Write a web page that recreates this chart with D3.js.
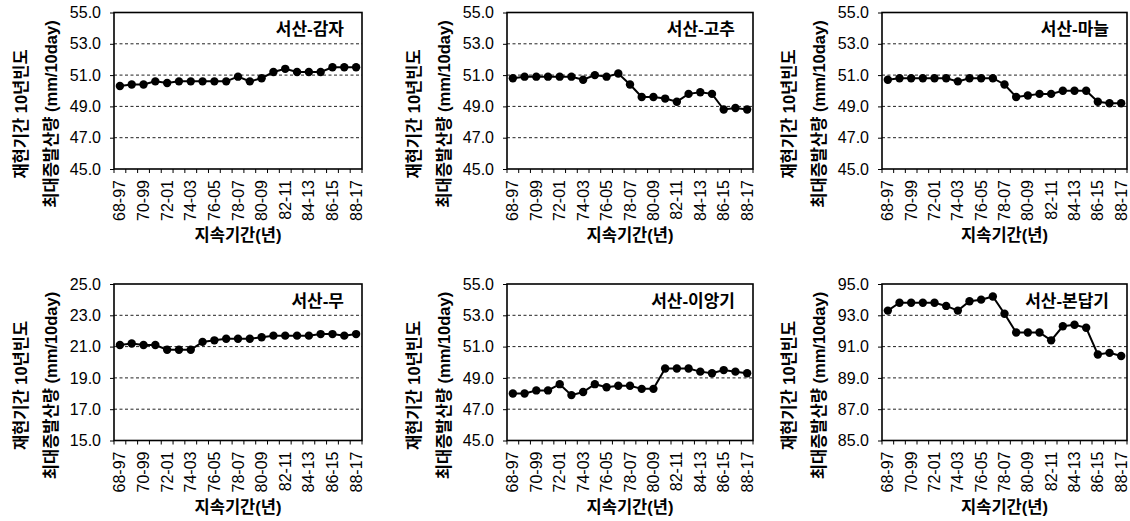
<!DOCTYPE html>
<html>
<head>
<meta charset="utf-8">
<script src="https://cdn.jsdelivr.net/npm/d3@7"></script>
<style>
  html, body { margin: 0; padding: 0; background: #fff; }
  svg { display: block; }
  text { font-family: "Liberation Sans", Arial, "Noto Sans CJK KR", sans-serif; fill: #000; }
</style>
</head>
<body>
<svg id="chart" width="1130" height="521"></svg>
<script>
// Rolling 30-year periods (start-end)
const periods = ["68-97","69-98","70-99","71-00","72-01","73-02","74-03","75-04","76-05","77-06",
                 "78-07","79-08","80-09","81-10","82-11","83-12","84-13","85-14","86-15","87-16","88-17"];

// 10-year return-period maximum evapotranspiration (mm/10day), Seosan
const potato = [50.3,50.4,50.4,50.6,50.5,50.6,50.6,50.6,50.6,50.6,50.9,50.6,50.8,51.2,51.4,51.2,51.2,51.2,51.5,51.5,51.5];
const pepper = [50.8,50.9,50.9,50.9,50.9,50.9,50.7,51.0,50.9,51.1,50.4,49.6,49.6,49.5,49.3,49.8,49.9,49.8,48.8,48.9,48.8];
const garlic = [50.7,50.8,50.8,50.8,50.8,50.8,50.6,50.8,50.8,50.8,50.4,49.6,49.7,49.8,49.8,50.0,50.0,50.0,49.3,49.2,49.2];
const radish = [21.1,21.2,21.1,21.1,20.8,20.8,20.8,21.3,21.4,21.5,21.5,21.5,21.6,21.7,21.7,21.7,21.7,21.8,21.8,21.7,21.8];
const transplant = [48.0,48.0,48.2,48.2,48.6,47.9,48.1,48.6,48.4,48.5,48.5,48.3,48.3,49.6,49.6,49.6,49.4,49.3,49.5,49.4,49.3];
const paddy = [93.3,93.8,93.8,93.8,93.8,93.6,93.3,93.9,94.0,94.2,93.1,91.9,91.9,91.9,91.4,92.3,92.4,92.2,90.5,90.6,90.4];

const titles = ["서산-감자","서산-고추","서산-마늘","서산-무","서산-이앙기","서산-본답기"];
const seriesList = [potato, pepper, garlic, radish, transplant, paddy];
const yDomains = [[45,55],[45,55],[45,55],[15,25],[45,55],[85,95]];
const yTickValues = [
  [45,47,49,51,53,55],[45,47,49,51,53,55],[45,47,49,51,53,55],
  [15,17,19,21,23,25],[45,47,49,51,53,55],[85,87,89,91,93,95]
];
const yLabel1 = "재현기간 10년빈도";
const yLabel2 = "최대증발산량 (mm/10day)";
const xLabel = "지속기간(년)";

// panel grid geometry
const lefts = [114, 507, 882];
const widths = [248, 246, 245];
const tops = [12.5, 284];
const plotH = 156.5;

const svg = d3.select("#chart");

seriesList.forEach((values, i) => {
  const col = i % 3, row = Math.floor(i / 3);
  const L = lefts[col], T = tops[row], W = widths[col], H = plotH;
  const g = svg.append("g").attr("transform", `translate(${L},${T})`);

  const x = d3.scaleBand().domain(periods).range([0, W]).padding(0);
  const y = d3.scaleLinear().domain(yDomains[i]).range([H, 0]);

  // dashed horizontal gridlines
  g.append("g").selectAll("line")
    .data(yTickValues[i].slice(1, -1))
    .join("line")
    .attr("x1", 0).attr("x2", W)
    .attr("y1", d => y(d)).attr("y2", d => y(d))
    .attr("stroke", "#222").attr("stroke-width", 1)
    .attr("stroke-dasharray", "3,2.5");

  // y axis ticks and labels
  const yAxis = d3.axisLeft(y).tickValues(yTickValues[i]).tickSize(4).tickPadding(9)
    .tickFormat(d3.format(".1f"));
  const ya = g.append("g").call(yAxis);
  ya.select(".domain").remove();
  ya.selectAll("line").attr("stroke", "#000").attr("stroke-width", 1);
  ya.selectAll("text").attr("font-size", 16).attr("fill", "#000")
    .style("font-family", "'Liberation Sans', Arial, sans-serif");

  // x axis: tick marks at category boundaries, labels on every other period
  const bounds = d3.range(periods.length + 1).map(k => k * x.step());
  g.append("g").selectAll("line").data(bounds).join("line")
    .attr("x1", d => d).attr("x2", d => d)
    .attr("y1", H).attr("y2", H + 4)
    .attr("stroke", "#000").attr("stroke-width", 1);

  g.append("g").selectAll("text")
    .data(periods.filter((p, k) => k % 2 === 0))
    .join("text")
    .attr("transform", d => `translate(${x(d) + x.bandwidth() / 2},${H + 11}) rotate(-90)`)
    .attr("text-anchor", "end")
    .attr("dominant-baseline", "central")
    .attr("font-size", 16)
    .text(d => d);

  // plot frame
  g.append("rect").attr("x", 0).attr("y", 0).attr("width", W).attr("height", H)
    .attr("fill", "none").attr("stroke", "#000").attr("stroke-width", 1.6);

  // series line and markers
  const pts = periods.map((p, k) => ({ p, v: values[k] }));
  const line = d3.line().x(d => x(d.p) + x.bandwidth() / 2).y(d => y(d.v));
  g.append("path").datum(pts).attr("d", line)
    .attr("fill", "none").attr("stroke", "#000").attr("stroke-width", 2);
  g.append("g").selectAll("circle").data(pts).join("circle")
    .attr("cx", d => x(d.p) + x.bandwidth() / 2)
    .attr("cy", d => y(d.v))
    .attr("r", 4.2).attr("fill", "#000");

  // panel title
  g.append("text")
    .attr("x", W - 18).attr("y", 17)
    .attr("text-anchor", "end").attr("dominant-baseline", "central")
    .attr("font-size", 17).attr("font-weight", "bold")
    .text(titles[i]);

  // x axis title
  g.append("text")
    .attr("x", W / 2).attr("y", H + 66)
    .attr("text-anchor", "middle").attr("dominant-baseline", "central")
    .attr("font-size", 16.5).attr("font-weight", "bold")
    .text(xLabel);

  // y axis title (two lines)
  [[yLabel1, -93], [yLabel2, -63]].forEach(([t, dx]) => {
    g.append("text")
      .attr("transform", `translate(${dx},${101.5}) rotate(-90)`)
      .attr("text-anchor", "middle").attr("dominant-baseline", "central")
      .attr("font-size", 16.5).attr("font-weight", "bold")
      .text(t);
  });
});
</script>
</body>
</html>
